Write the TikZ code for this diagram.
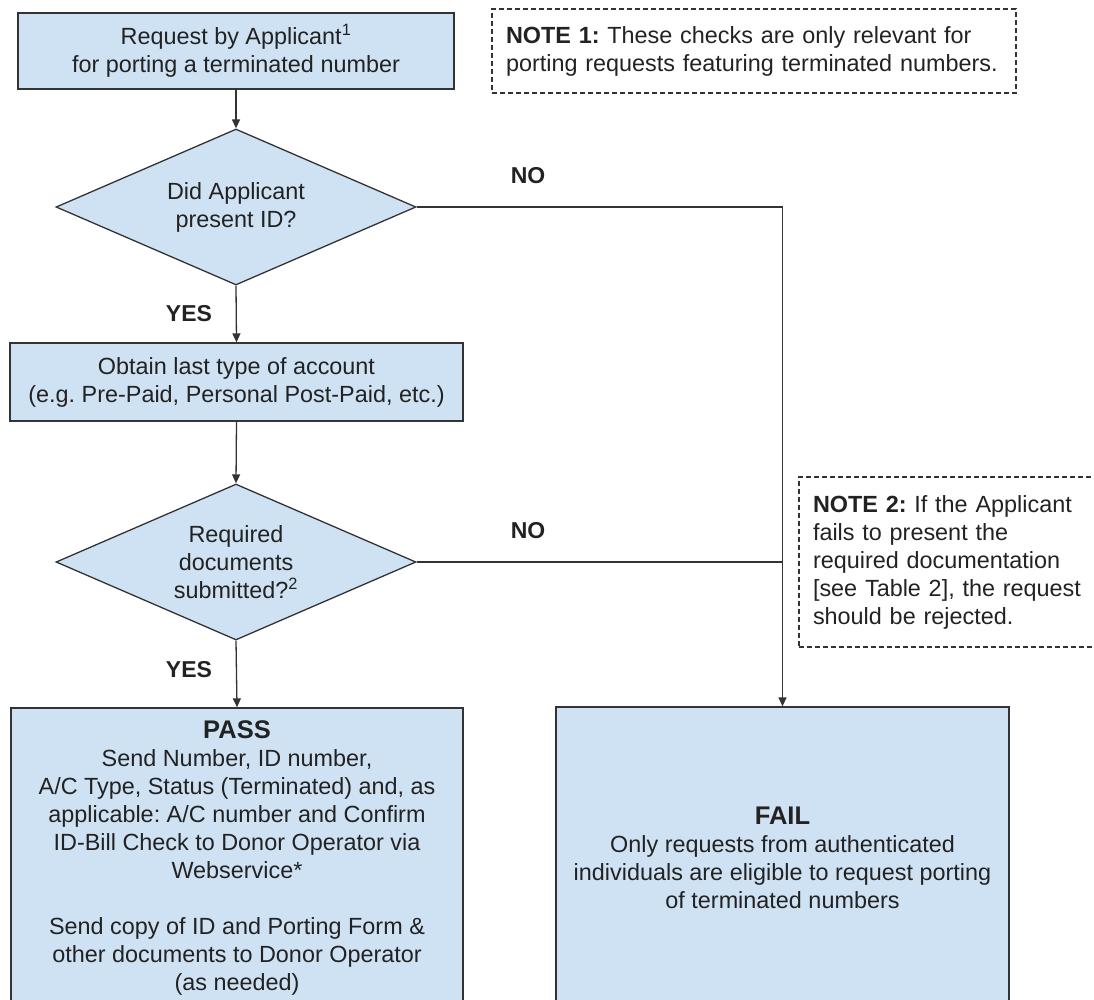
\documentclass[tikz,border=0pt]{standalone}
\usepackage{fontspec}
\setmainfont{Liberation Sans}
\usetikzlibrary{shapes.geometric,arrows.meta}
\definecolor{boxfill}{HTML}{CFE2F3}
\definecolor{ink}{HTML}{222222}
\definecolor{edge}{HTML}{333333}
\newcommand{\headfont}{\fontsize{25.5}{30}\selectfont\bfseries}
\frenchspacing
\begin{document}
\begin{tikzpicture}[x=1pt,y=-1pt,
  every node/.style={font=\fontsize{23.4}{28}\selectfont, text=ink},
  procbox/.style={draw=edge, line width=1.3pt, fill=boxfill, rectangle,
    align=center, inner sep=0pt},
  decision/.style={draw=edge, line width=1.3pt, fill=boxfill, diamond,
    aspect=2.3, align=center, inner sep=0pt,
    minimum width=360pt, minimum height=156pt},
  notebox/.style={draw=edge, line width=1.1pt, dash pattern=on 5pt off 3pt,
    align=left, inner sep=0pt},
  flow/.style={draw=edge, line width=1.3pt, -{Triangle[length=9pt,width=8pt]}},
  link/.style={draw=edge, line width=1.3pt},
  tag/.style={font=\fontsize{23}{28}\selectfont\bfseries}]
\useasboundingbox (0,0) rectangle (1094,999);

% process boxes
\node[procbox, minimum width=436pt, minimum height=76pt] (req) at (236,51)
  {Request by Applicant\textsuperscript{1}\\for porting a terminated number};
\node[decision] (d1) at (236,207) {Did Applicant\\present ID?};
\node[procbox, minimum width=453pt, minimum height=78pt] (acct) at (236.5,382)
  {Obtain last type of account\\(e.g. Pre-Paid, Personal Post-Paid, etc.)};
\node[decision] (d2) at (236,562) {Required\\documents\\submitted?\textsuperscript{2}};
\node[procbox, minimum width=452pt, minimum height=300pt] (pass) at (237,858)
  {{\headfont PASS}\\Send Number, ID number,\\A/C Type, Status (Terminated) and, as\\
   applicable: A/C number and Confirm\\ID-Bill Check to Donor Operator via\\
   Webservice*\\[28pt]Send copy of ID and Porting Form \&\\
   other documents to Donor Operator\\(as needed)};
\node[procbox, minimum width=453pt, minimum height=302pt] (fail) at (782.5,858)
  {{\headfont FAIL}\\Only requests from authenticated\\
   individuals are eligible to request porting\\of terminated numbers};

% notes
\node[notebox, minimum width=524pt, minimum height=84pt, text width=496pt]
  (note1) at (754,51)
  {\textbf{NOTE 1:} These checks are only relevant for\\
   porting requests featuring terminated numbers.};
\node[notebox, minimum width=321pt, minimum height=170pt, text width=293pt]
  (note2) at (959.5,562)
  {\textbf{NOTE 2:} If the Applicant\\fails to present the\\
   required documentation\\{[}see Table 2{]}, the request\\should be rejected.};

% connectors
\draw[flow] (req.south) -- (d1.north);
\draw[flow] (d1.south) -- (acct.north);
\draw[flow] (acct.south) -- (d2.north);
\draw[flow] (d2.south) -- (pass.north);
\draw[flow] (d1.east) -| (fail.north);
\coordinate (join) at (d2.east -| fail.north);
\draw[link] (d2.east) -- (join);

% branch labels
\node[tag] (no1) at (528,176) {NO};
\node[tag] (no2) at (528,531) {NO};
\node[tag] (yes1) at (189,314) {YES};
\node[tag] (yes2) at (189,670) {YES};
\end{tikzpicture}
\end{document}
